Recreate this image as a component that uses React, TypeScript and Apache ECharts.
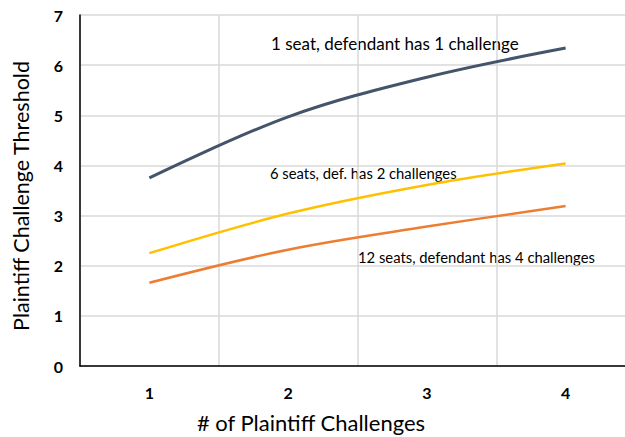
import React, { useEffect, useRef } from "react";
import * as echarts from "echarts";

const categories = ["1", "2", "3", "4"];
const oneSeat = [3.75, 4.97, 5.76, 6.34];
const sixSeats = [2.25, 3.04, 3.61, 4.04];
const twelveSeats = [1.66, 2.32, 2.78, 3.19];
const yTicks = [0, 1, 2, 3, 4, 5, 6, 7];

const FONT = "Lato, 'Open Sans', sans-serif";

export default function App() {
  const ref = useRef<HTMLDivElement>(null);
  useEffect(() => {
    document.body.style.margin = "0";
    document.body.style.overflow = "hidden";
    if (!ref.current) return;
    const chart = echarts.init(ref.current, null, { renderer: "svg" });
    chart.setOption({
      animation: false,
      backgroundColor: "#ffffff",
      grid: { left: 80, right: -10, top: 15, bottom: 71, containLabel: false, outerBoundsMode: "none" },
      xAxis: {
        type: "category",
        data: categories,
        boundaryGap: true,
        axisLine: { show: true, lineStyle: { color: "#000", width: 1.5 } },
        axisTick: { show: false },
        axisLabel: { fontFamily: FONT, fontSize: 16, fontWeight: "bold", color: "#000", margin: 18 },
        splitLine: { show: true, lineStyle: { color: "#d9d9d9", width: 1.5 } },
      },
      yAxis: {
        type: "value",
        min: yTicks[0],
        max: yTicks[yTicks.length - 1],
        interval: 1,
        axisLine: { show: true, lineStyle: { color: "#000", width: 1.5 } },
        axisTick: { show: false },
        axisLabel: { fontFamily: FONT, fontSize: 16, fontWeight: "bold", color: "#000", margin: 17 },
        splitLine: { show: true, lineStyle: { color: "#d9d9d9", width: 1.5 } },
      },
      series: [
        {
          name: "1 seat",
          type: "line",
          data: oneSeat,
          smooth: 0.35,
          showSymbol: false,
          lineStyle: { color: "#44546A", width: 3 },
          itemStyle: { color: "#44546A" },
        },
        {
          name: "6 seats",
          type: "line",
          data: sixSeats,
          smooth: 0.35,
          showSymbol: false,
          lineStyle: { color: "#FFC000", width: 2.5 },
          itemStyle: { color: "#FFC000" },
        },
        {
          name: "12 seats",
          type: "line",
          data: twelveSeats,
          smooth: 0.35,
          showSymbol: false,
          lineStyle: { color: "#ED7D31", width: 2.5 },
          itemStyle: { color: "#ED7D31" },
        },
      ],
      graphic: [
        {
          type: "text",
          x: 21,
          y: 196,
          rotation: Math.PI / 2,
          style: {
            text: "Plaintiff Challenge Threshold",
            fontFamily: FONT,
            fontSize: 21.5,
            fill: "#000",
            align: "center",
            verticalAlign: "middle",
          },
        },
        {
          type: "text",
          x: 311,
          y: 422,
          style: {
            text: "# of Plaintiff Challenges",
            fontFamily: FONT,
            fontSize: 22,
            fill: "#000",
            align: "center",
            verticalAlign: "middle",
          },
        },
        {
          type: "text",
          x: 271,
          y: 43,
          style: {
            text: "1 seat, defendant has 1 challenge",
            fontFamily: FONT,
            fontSize: 17,
            fill: "#000",
            verticalAlign: "middle",
          },
        },
        {
          type: "text",
          x: 270,
          y: 173,
          style: {
            text: "6 seats, def. has 2 challenges",
            fontFamily: FONT,
            fontSize: 14.8,
            fill: "#000",
            verticalAlign: "middle",
          },
        },
        {
          type: "text",
          x: 358,
          y: 257,
          style: {
            text: "12 seats, defendant has 4 challenges",
            fontFamily: FONT,
            fontSize: 14.8,
            fill: "#000",
            verticalAlign: "middle",
          },
        },
      ],
    });
    return () => chart.dispose();
  }, []);
  return (
    <div style={{ width: 625, height: 437, position: "absolute", left: 0, top: 0, overflow: "hidden" }}>
      <div ref={ref} style={{ width: 625, height: 437 }} />
    </div>
  );
}
